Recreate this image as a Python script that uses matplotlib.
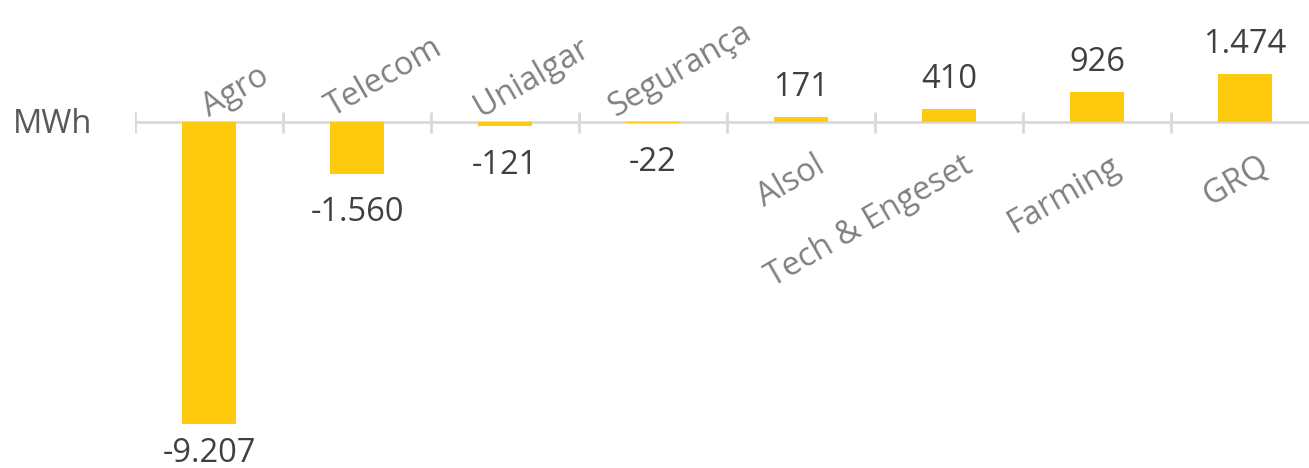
import numpy as np
import matplotlib
matplotlib.use('Agg')
import matplotlib.pyplot as plt

plt.rcParams['font.family'] = ['Open Sans', 'DejaVu Sans']

categories = ['Agro', 'Telecom', 'Unialgar', 'Segurança',
              'Alsol', 'Tech & Engeset', 'Farming', 'GRQ']
values = [-9207, -1560, -121, -22, 171, 410, 926, 1474]
value_labels = ['-9.207', '-1.560', '-121', '-22', '171', '410', '926', '1.474']
unit = 'MWh'

bar_color = '#FFC90D'
axis_color = '#D9D9D9'
fs = 23.5

W, H = 1309, 468
fig = plt.figure(figsize=(W / 100, H / 100), dpi=100)
# axis spans from x=135 px and runs past the right edge like the original
ax = fig.add_axes([135 / W, 0, 1184 / W, 1])

x = np.arange(len(categories))
ax.bar(x, values, width=0.36, color=bar_color, zorder=2)

ylo, yhi = -10550, 3740
ax.set_xlim(-0.5, len(categories) - 0.5)
ax.set_ylim(ylo, yhi)
ax.axis('off')

# zero line with category separator ticks crossing it
ax.axhline(0, color=axis_color, lw=2, zorder=1)
bounds = np.arange(len(categories) + 1) - 0.5
ax.vlines(bounds, -320, 320, color=axis_color, lw=2, zorder=1)

px_per_unit = H / (yhi - ylo)

for xi, v, lab, cat in zip(x, values, value_labels, categories):
    if v < 0:
        # keep the label inside the chart, as the spreadsheet does
        if (-v * px_per_unit + 24 + 26) > (-ylo * px_per_unit):
            ax.annotate(lab, (xi, ylo), xytext=(0, 4.5), textcoords='offset points',
                        ha='center', va='baseline', fontsize=fs, color='#404040')
        else:
            ax.annotate(lab, (xi, v), xytext=(0, -16.2), textcoords='offset points',
                        ha='center', va='top', fontsize=fs, color='#404040')
        ax.annotate(cat, (xi, 0), xytext=(19.5, -1), textcoords='offset points',
                    ha='center', va='bottom', rotation=30,
                    fontsize=fs, color='#808080')
    else:
        ax.annotate(lab, (xi, v), xytext=(0, 9.5), textcoords='offset points',
                    ha='center', va='bottom', fontsize=fs, color='#404040')
        ax.annotate(cat, (xi, 0), xytext=(15, -29.5), textcoords='offset points',
                    ha='right', va='center', rotation=30, rotation_mode='anchor',
                    fontsize=fs, color='#808080')

fig.text(13 / W, 1 - 133 / H, unit, ha='left', va='baseline',
         fontsize=fs, color='#595959')

fig.savefig('out.png', dpi=100)
